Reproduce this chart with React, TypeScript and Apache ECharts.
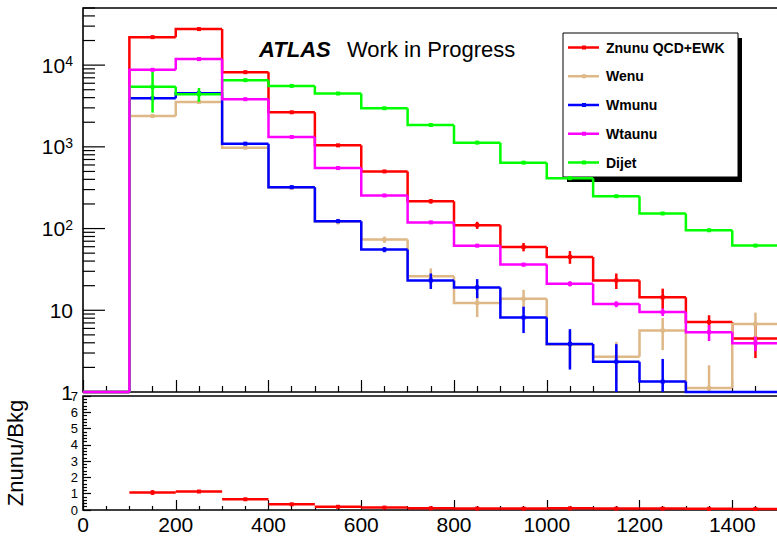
import React, { useEffect, useRef } from 'react';
import * as echarts from 'echarts';

// Missing-ET style binning: 15 bins of 100 GeV from 0 to 1500
const binEdges = [0, 100, 200, 300, 400, 500, 600, 700, 800, 900, 1000, 1100, 1200, 1300, 1400, 1500];

const znunu = [0, 22000, 27600, 8200, 2650, 1043, 500, 216, 110, 59.6, 45, 23.2, 14.4, 7.2, 4.5];
const znunuErr = [0, 400, 450, 170, 70, 30, 18, 14, 11, 7, 8, 5, 4, 1.5, 1.9];

const wenu = [0, 2388, 3546, 977, 318, 122, 73.3, 26, 12.25, 13.8, 3.8, 2.7, 5.65, 1.12, 6.77];
const wenuErr = [0, 120, 150, 40, 20, 10, 6.5, 6.5, 4, 4, 1.8, 1.4, 2.4, 1.0, 2.6];

const wmunu = [0, 3935, 4530, 1094, 321, 123, 55.3, 23.2, 19.05, 8.16, 3.88, 2.35, 1.34, 0, 0];
const wmunuErr = [0, 150, 160, 40, 12, 6, 4, 5, 5, 2.9, 2.0, 1.5, 1.2, 0, 0];

const wtaunu = [0, 8750, 11850, 3830, 1320, 550, 254, 119, 61.8, 36.2, 21.1, 11.9, 9.5, 5.4, 3.96];
const wtaunuErr = [0, 250, 300, 100, 35, 15, 8, 4, 2.5, 1.8, 1.5, 1.0, 1.0, 1.2, 0.8];

const dijet = [0, 5420, 4405, 6545, 5570, 4495, 2967, 1852, 1126, 640, 414, 249, 153, 95.3, 61.9];
const dijetErr = [0, 2800, 850, 250, 200, 120, 60, 35, 20, 10, 7, 5, 3, 2, 1.5];

const seriesNames = ['Znunu QCD+EWK', 'Wenu', 'Wmunu', 'Wtaunu', 'Dijet'];
const seriesColors = ['#ff0000', '#deb887', '#0000ff', '#ff00ff', '#00ff00'];
const seriesValues = [znunu, wenu, wmunu, wtaunu, dijet];
const seriesErrors = [znunuErr, wenuErr, wmunuErr, wtaunuErr, dijetErr];
// drawing order of the histograms (indices into the lists above)
const drawOrder = [0, 1, 2, 4, 3];

const Y_MIN = 1;
const Y_MAX = 50000;
const X_MAX_AXIS = 1600;
const RATIO_MAX = 7;

const FONT = '"Liberation Sans", Arial, Helvetica, sans-serif';
const LW = 2.5;

// background sum and Znunu/Bkg ratio per bin
const bkg = binEdges.slice(0, -1).map((_, i) => wenu[i] + wmunu[i] + wtaunu[i] + dijet[i]);
const bkgErr = binEdges.slice(0, -1).map((_, i) =>
  Math.sqrt(wenuErr[i] ** 2 + wmunuErr[i] ** 2 + wtaunuErr[i] ** 2 + dijetErr[i] ** 2)
);

function histData(values: number[], errs: number[]) {
  return values.map((v, i) => [binEdges[i], binEdges[i + 1], v, errs[i], i === 0 ? 0 : values[i - 1]]);
}

function ratioData() {
  const out: number[][] = [];
  for (let i = 0; i < bkg.length; i++) {
    if (bkg[i] <= 0) continue;
    const r = znunu[i] / bkg[i];
    const rel = Math.sqrt((znunuErr[i] / znunu[i]) ** 2 + (bkgErr[i] / bkg[i]) ** 2);
    out.push([binEdges[i], binEdges[i + 1], r, r * rel]);
  }
  return out;
}

function histRenderer(color: string) {
  return (_params: any, api: any) => {
    const lo = api.value(0);
    const hi = api.value(1);
    const v = api.value(2);
    const e = api.value(3);
    const prev = api.value(4);
    const yv = Math.max(v, Y_MIN);
    const yp = Math.max(prev, Y_MIN);
    const a = api.coord([lo, yp]);
    const b = api.coord([lo, yv]);
    const c = api.coord([hi, yv]);
    const children: any[] = [
      {
        type: 'polyline',
        shape: { points: [a, b, c] },
        style: { stroke: color, lineWidth: LW, fill: 'none' },
      },
    ];
    if (v > 0) {
      const mid = (lo + hi) / 2;
      const pc = api.coord([mid, v]);
      const pt = api.coord([mid, v + e]);
      const pb = api.coord([mid, Math.max(v - e, Y_MIN)]);
      children.push({
        type: 'line',
        shape: { x1: pc[0], y1: pt[1], x2: pc[0], y2: pb[1] },
        style: { stroke: color, lineWidth: LW },
      });
      children.push({
        type: 'rect',
        shape: { x: pc[0] - 2, y: pc[1] - 2, width: 4, height: 4 },
        style: { fill: color },
      });
    }
    return { type: 'group', children };
  };
}

function ratioRenderer(color: string) {
  return (_params: any, api: any) => {
    const lo = api.value(0);
    const hi = api.value(1);
    const r = api.value(2);
    const e = api.value(3);
    const mid = (lo + hi) / 2;
    const a = api.coord([lo, r]);
    const b = api.coord([hi, r]);
    const pc = api.coord([mid, r]);
    const pt = api.coord([mid, r + e]);
    const pb = api.coord([mid, Math.max(r - e, 0)]);
    return {
      type: 'group',
      children: [
        { type: 'line', shape: { x1: a[0], y1: a[1], x2: b[0], y2: b[1] }, style: { stroke: color, lineWidth: LW } },
        { type: 'line', shape: { x1: pc[0], y1: pt[1], x2: pc[0], y2: pb[1] }, style: { stroke: color, lineWidth: LW } },
        { type: 'rect', shape: { x: pc[0] - 2, y: pc[1] - 2, width: 4, height: 4 }, style: { fill: color } },
      ],
    };
  };
}

// tick marks of the logarithmic axis: decades and 2..9 subdivisions
function logTicks() {
  const out: number[][] = [];
  for (let d = 1; d <= Y_MAX; d *= 10) {
    for (let m = 1; m <= 9; m++) {
      const t = m * d;
      if (t <= Y_MAX) out.push([t, m === 1 ? 1 : 0]);
    }
  }
  return out;
}

function logLabel(v: number) {
  const e = Math.round(Math.log10(v));
  if (Math.abs(v - Math.pow(10, e)) > 1e-6 * v) return '';
  if (e === 0) return '1';
  if (e === 1) return '10';
  return `{b|10}{s|${e}}`;
}

function buildLegend() {
  const x0 = 563;
  const y0 = 33;
  const w = 175;
  const h = 144;
  const children: any[] = [
    { type: 'rect', shape: { x: x0 + 4, y: y0 + 5, width: w, height: h }, style: { fill: '#000' } },
    { type: 'rect', shape: { x: x0, y: y0, width: w, height: h }, style: { fill: '#fff', stroke: '#000', lineWidth: 1 } },
  ];
  seriesNames.forEach((name, i) => {
    const y = y0 + 14.5 + i * 28.75;
    const color = seriesColors[i];
    children.push({ type: 'line', shape: { x1: x0 + 5, y1: y, x2: x0 + 36, y2: y }, style: { stroke: color, lineWidth: LW } });
    children.push({ type: 'rect', shape: { x: x0 + 19, y: y - 2, width: 4, height: 4 }, style: { fill: color } });
    children.push({
      type: 'text',
      x: x0 + 43,
      y,
      style: { text: name, font: `bold 14px ${FONT}`, fill: '#000', verticalAlign: 'middle', align: 'left' },
    });
  });
  return { type: 'group', z: 100, children };
}

export default function App() {
  const ref = useRef<HTMLDivElement>(null);

  useEffect(() => {
    if (!ref.current) return;
    const chart = echarts.init(ref.current, undefined, { renderer: 'svg' });

    const xCommon = {
      type: 'value',
      min: 0,
      max: X_MAX_AXIS,
      interval: 200,
      axisLine: { show: false },
      splitLine: { show: false },
      axisTick: { show: true, inside: true, length: 12, lineStyle: { color: '#000', width: 1.2 } },
      minorTick: { show: true, splitNumber: 4, length: 6, lineStyle: { color: '#000', width: 1.2 } },
    };

    const histSeries = drawOrder.map((k) => ({
      type: 'custom',
      name: seriesNames[k],
      xAxisIndex: 0,
      yAxisIndex: 0,
      clip: false,
      encode: { x: 0, y: 2 },
      renderItem: histRenderer(seriesColors[k]),
      data: histData(seriesValues[k], seriesErrors[k]),
      z: 3,
    }));

    const gridCommon = {
      left: 83,
      right: -48,
      show: true,
      borderColor: '#000',
      borderWidth: 1.6,
      backgroundColor: 'transparent',
      containLabel: false,
      outerBoundsMode: 'none',
    };

    const option: any = {
      animation: false,
      backgroundColor: '#fff',
      grid: [
        { ...gridCommon, top: 8, bottom: 146 },
        { ...gridCommon, top: 396, bottom: 28 },
      ],
      xAxis: [
        { ...xCommon, gridIndex: 0, axisLabel: { show: false } },
        {
          ...xCommon,
          gridIndex: 1,
          axisTick: { ...xCommon.axisTick, length: 10 },
          minorTick: { ...xCommon.minorTick, length: 4 },
          axisLabel: {
            show: true,
            fontSize: 21,
            fontFamily: FONT,
            color: '#000',
            margin: 4,
            showMaxLabel: false,
            alignMinLabel: 'center',
            alignMaxLabel: 'center',
            hideOverlap: false,
            formatter: (v: number) => String(v),
          },
        },
      ],
      yAxis: [
        {
          type: 'log',
          logBase: 10,
          gridIndex: 0,
          min: Y_MIN,
          max: Y_MAX,
          axisLine: { show: false },
          axisTick: { show: false },
          splitLine: { show: false },
          axisLabel: {
            show: true,
            margin: 10,
            formatter: logLabel,
            fontSize: 21,
            fontFamily: FONT,
            color: '#000',
            showMaxLabel: false,
            hideOverlap: false,
            rich: {
              b: { fontSize: 21, fontFamily: FONT, color: '#000' },
              s: { fontSize: 14, fontFamily: FONT, color: '#000', padding: [0, 0, 8, 0] },
            },
          },
        },
        {
          type: 'value',
          gridIndex: 1,
          min: 0,
          max: RATIO_MAX,
          interval: 1,
          name: 'Znunu/Bkg',
          nameLocation: 'middle',
          nameRotate: 90,
          nameGap: 57,
          nameTextStyle: { fontSize: 22, fontFamily: FONT, color: '#000' },
          axisLine: { show: false },
          splitLine: { show: false },
          axisTick: { show: true, inside: true, length: 8, lineStyle: { color: '#000', width: 1.2 } },
          minorTick: { show: true, splitNumber: 5, length: 4, lineStyle: { color: '#000', width: 1.2 } },
          axisLabel: { fontSize: 13, fontFamily: FONT, color: '#000', margin: 5, hideOverlap: false },
        },
      ],
      series: [
        {
          type: 'custom',
          name: 'logTicks',
          xAxisIndex: 0,
          yAxisIndex: 0,
          clip: false,
          encode: { y: 0 },
          silent: true,
          data: logTicks(),
          renderItem: (_p: any, api: any) => {
            const p = api.coord([0, api.value(0)]);
            const len = api.value(1) ? 22 : 12;
            return {
              type: 'line',
              shape: { x1: p[0], y1: p[1], x2: p[0] + len, y2: p[1] },
              style: { stroke: '#000', lineWidth: 1.2 },
            };
          },
          z: 1,
        },
        ...histSeries,
        {
          type: 'custom',
          name: 'Znunu/Bkg',
          xAxisIndex: 1,
          yAxisIndex: 1,
          clip: false,
          encode: { x: 0, y: 2 },
          renderItem: ratioRenderer(seriesColors[0]),
          data: ratioData(),
          z: 3,
        },
      ],
      graphic: [
        {
          type: 'text',
          x: 259,
          y: 49,
          style: { text: 'ATLAS', font: `italic bold 22px ${FONT}`, fill: '#000', verticalAlign: 'middle', align: 'left' },
        },
        {
          type: 'text',
          x: 347,
          y: 49,
          style: { text: 'Work in Progress', font: `22px ${FONT}`, fill: '#000', verticalAlign: 'middle', align: 'left' },
        },
        buildLegend(),
      ],
    };

    chart.setOption(option);
    return () => chart.dispose();
  }, []);

  return (
    <div
      ref={ref}
      style={{ position: 'absolute', left: 0, top: 0, width: 777, height: 538, background: '#fff', overflow: 'hidden' }}
    />
  );
}
